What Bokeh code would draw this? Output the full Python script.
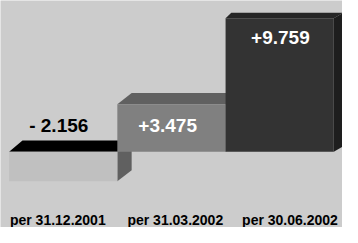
from bokeh.plotting import figure
from bokeh.models import ColumnDataSource, Range1d
from bokeh.core.properties import value
from bokeh.embed import file_html
from bokeh.resources import INLINE

# ---- data ----
categories = ["per 31.12.2001", "per 31.03.2002", "per 30.06.2002"]
values = [-2156, 3475, 9759]
value_labels = ["- 2.156", "+3.475", "+9.759"]

# ---- styles ----
front_colors = ["#c0c0c0", "#808080", "#333333"]
top_colors = ["#000000", "#606060", "#262626"]
side_colors = ["#606060", "#505050", "#1e1e1e"]
label_colors = ["#000000", "#ffffff", "#ffffff"]
depth_left_px = [14, 15, 6]
depth_right_px = [15, 15, 10]
depth_up_px = [12, 12, 6]

# reference layout (in reference pixels, 358 x 243)
REF_W, REF_H = 358.0, 243.0
bar_w_px = 113.3
left_px = 9.0
zero_px = 162.0
px_per_unit = 14.65 / 1000.0

# actual figure size (fits the window with the 8px page margin)
W, H = 342, 227

x0 = -left_px / bar_w_px
x1 = (REF_W - left_px) / bar_w_px
y1 = zero_px / px_per_unit
y0 = -(REF_H - zero_px) / px_per_unit

p = figure(width=W, height=H, output_backend="svg", toolbar_location=None,
           x_range=Range1d(x0, x1), y_range=Range1d(y0, y1),
           min_border=0, background_fill_color="#cccccc",
           border_fill_color="#cccccc", outline_line_color=None)
p.axis.visible = False
p.grid.visible = False

sx = 1.0 / bar_w_px
sy = 1.0 / px_per_unit

for i, v in enumerate(values):
    xl, xr = float(i), float(i + 1)
    top, bot = max(0, v), min(0, v)
    dl, dr, du = depth_left_px[i] * sx, depth_right_px[i] * sx, depth_up_px[i] * sy
    p.patch([xl, xr, xr + dr, xl + dl], [top, top, top + du, top + du],
            fill_color=top_colors[i], line_color=None)
    p.patch([xr, xr + dr, xr + dr, xr], [bot, bot + du, top + du, top],
            fill_color=side_colors[i], line_color=None)
    p.quad(left=xl, right=xr, bottom=bot, top=top,
           fill_color=front_colors[i], line_color=None)

vl_x_px = [61, 175, 293]
vl_y_px = [134, 134, 40]
src_v = ColumnDataSource(dict(
    x=[(xp - left_px) * sx for xp in vl_x_px],
    y=[(zero_px - yp) * sy for yp in vl_y_px],
    t=value_labels, c=label_colors))
p.text(x="x", y="y", text="t", text_color="c", source=src_v,
       text_font=value("Liberation Sans"), text_font_style="bold",
       text_font_size="19px", text_align="center", text_baseline="alphabetic")

cl_x_px = [60, 183, 303]
cl_y_px = 235
src_c = ColumnDataSource(dict(
    x=[(xp - left_px) * sx for xp in cl_x_px],
    y=[(zero_px - cl_y_px) * sy] * 3,
    t=categories))
p.text(x="x", y="y", text="t", source=src_c, text_color="#000000",
       text_font=value("Liberation Sans"), text_font_style="bold",
       text_font_size="14px", text_align="center", text_baseline="alphabetic")

open("out.html", "w").write(file_html(p, INLINE))
